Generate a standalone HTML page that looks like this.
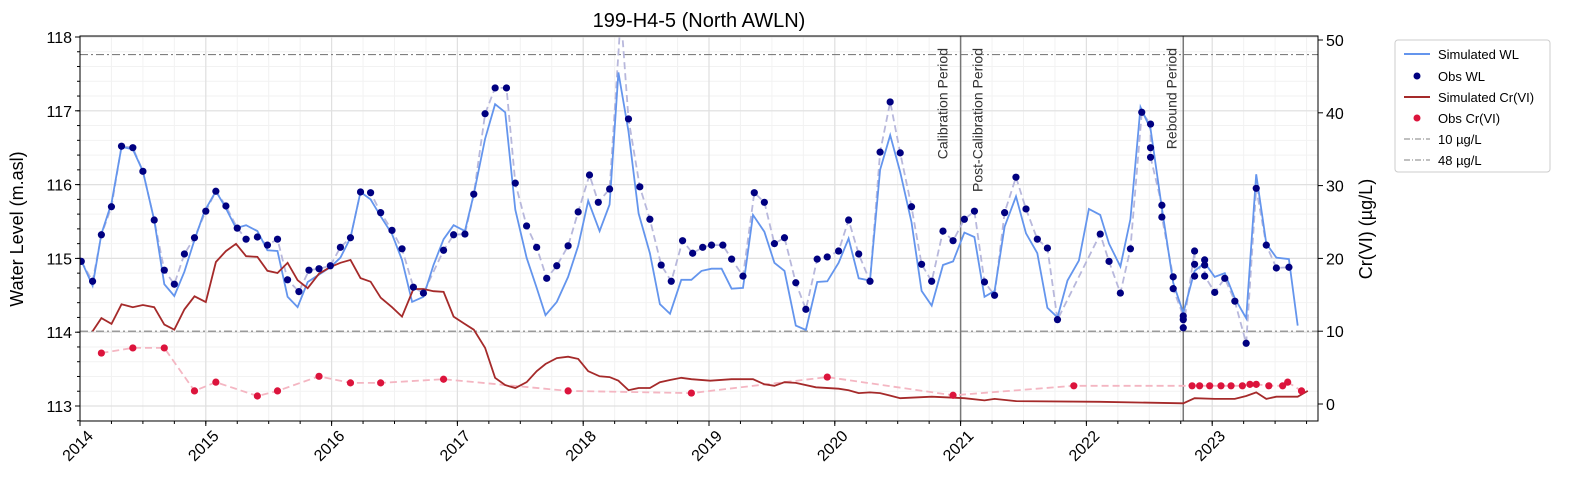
<!DOCTYPE html>
<html><head><meta charset="utf-8">
<style>
html,body{margin:0;padding:0;background:#fff;}
svg{display:block;font-family:"Liberation Sans","DejaVu Sans",sans-serif;}
</style></head>
<body>
<svg id="chart" width="1572" height="489" xmlns="http://www.w3.org/2000/svg">
<defs><clipPath id="clip"><rect x="80" y="36" width="1238" height="385"/></clipPath></defs>
<g id="grid"></g>
<g id="marks" clip-path="url(#clip)"></g>
<rect x="80" y="36" width="1238" height="385" fill="none" stroke="#000" stroke-width="1"/>
<g id="axes"></g>
<text x="699" y="27" font-size="20" text-anchor="middle">199-H4-5 (North AWLN)</text>
<text transform="translate(23,229) rotate(-90)" font-size="18" text-anchor="middle">Water Level (m.asl)</text>
<text transform="translate(1372,229) rotate(-90)" font-size="18" text-anchor="middle">Cr(VI) (µg/L)</text>
<g>
<rect x="1395" y="40" width="155" height="132" fill="#fff" stroke="#ccc" rx="3"/>
<line x1="1404" y1="54" x2="1430" y2="54" stroke="#6495ED" stroke-width="2"/>
<text x="1438" y="59" font-size="13">Simulated WL</text>
<circle cx="1417" cy="76" r="3.5" fill="#000080"/>
<text x="1438" y="81" font-size="13">Obs WL</text>
<line x1="1404" y1="97" x2="1430" y2="97" stroke="#A52A2A" stroke-width="2"/>
<text x="1438" y="102" font-size="13">Simulated Cr(VI)</text>
<circle cx="1417" cy="118" r="3.5" fill="#DC143C"/>
<text x="1438" y="123" font-size="13">Obs Cr(VI)</text>
<line x1="1404" y1="139" x2="1430" y2="139" stroke="#808080" stroke-width="1" stroke-dasharray="6,2,1,2"/>
<text x="1438" y="144" font-size="13">10 µg/L</text>
<line x1="1404" y1="160" x2="1430" y2="160" stroke="#808080" stroke-width="1" stroke-dasharray="6,2,1,2"/>
<text x="1438" y="165" font-size="13">48 µg/L</text>
</g>
</svg>
<script>
const simWlDates=[2014.00,2014.10,2014.17,2014.25,2014.33,2014.42,2014.50,2014.59,2014.67,2014.75,2014.83,2014.91,2014.99,2015.08,2015.15,2015.24,2015.32,2015.41,2015.49,2015.57,2015.65,2015.73,2015.81,2015.90,2015.99,2016.07,2016.15,2016.23,2016.31,2016.39,2016.48,2016.56,2016.64,2016.73,2016.81,2016.89,2016.97,2017.06,2017.13,2017.22,2017.30,2017.38,2017.46,2017.55,2017.63,2017.70,2017.79,2017.88,2017.96,2018.04,2018.13,2018.21,2018.28,2018.36,2018.44,2018.53,2018.61,2018.69,2018.78,2018.86,2018.94,2019.02,2019.10,2019.18,2019.27,2019.35,2019.44,2019.52,2019.60,2019.69,2019.77,2019.86,2019.94,2020.03,2020.11,2020.19,2020.28,2020.36,2020.44,2020.52,2020.61,2020.69,2020.77,2020.86,2020.94,2021.03,2021.11,2021.19,2021.27,2021.35,2021.44,2021.52,2021.61,2021.69,2021.77,2021.85,2021.94,2022.02,2022.11,2022.18,2022.27,2022.35,2022.43,2022.51,2022.60,2022.69,2022.77,2022.86,2022.94,2023.02,2023.10,2023.18,2023.27,2023.35,2023.43,2023.51,2023.61,2023.68];
const simWlValues=[115.01,114.63,115.33,115.75,116.51,116.48,116.18,115.52,114.65,114.49,114.82,115.25,115.64,115.91,115.71,115.41,115.45,115.37,115.11,115.10,114.48,114.34,114.68,114.78,114.88,115.01,115.28,115.90,115.80,115.57,115.33,114.98,114.41,114.48,114.91,115.26,115.45,115.37,115.87,116.62,117.09,116.98,115.66,115.01,114.60,114.23,114.41,114.75,115.17,115.78,115.37,115.73,117.52,116.72,115.61,115.07,114.38,114.25,114.71,114.71,114.83,114.86,114.86,114.59,114.60,115.59,115.36,114.94,114.83,114.09,114.03,114.68,114.69,114.94,115.27,114.73,114.70,116.20,116.67,116.17,115.49,114.56,114.36,114.91,114.96,115.35,115.29,114.48,114.56,115.43,115.84,115.34,115.07,114.33,114.20,114.70,114.97,115.67,115.59,115.20,114.89,115.53,117.05,116.75,115.68,114.67,114.26,114.83,114.94,114.75,114.80,114.46,114.19,116.14,115.20,115.01,114.99,114.09];
const obsWlDates=[2014.01,2014.10,2014.17,2014.25,2014.33,2014.42,2014.50,2014.59,2014.67,2014.75,2014.83,2014.91,2015.00,2015.08,2015.16,2015.25,2015.32,2015.41,2015.49,2015.57,2015.65,2015.74,2015.82,2015.90,2015.99,2016.07,2016.15,2016.23,2016.31,2016.39,2016.48,2016.56,2016.65,2016.73,2016.89,2016.97,2017.06,2017.13,2017.22,2017.30,2017.39,2017.46,2017.55,2017.63,2017.71,2017.79,2017.88,2017.96,2018.05,2018.12,2018.21,2018.30,2018.36,2018.45,2018.53,2018.62,2018.70,2018.79,2018.87,2018.95,2019.02,2019.11,2019.18,2019.27,2019.36,2019.44,2019.52,2019.60,2019.69,2019.77,2019.86,2019.94,2020.03,2020.11,2020.19,2020.28,2020.36,2020.44,2020.52,2020.61,2020.69,2020.77,2020.86,2020.94,2021.03,2021.11,2021.19,2021.27,2021.35,2021.44,2021.52,2021.61,2021.69,2021.77,2022.11,2022.18,2022.27,2022.35,2022.44,2022.51,2022.51,2022.51,2022.60,2022.60,2022.69,2022.69,2022.77,2022.77,2022.77,2022.86,2022.86,2022.86,2022.94,2022.94,2022.94,2023.02,2023.10,2023.18,2023.27,2023.35,2023.43,2023.51,2023.61];
const obsWlValues=[114.96,114.69,115.32,115.70,116.52,116.50,116.18,115.52,114.84,114.65,115.06,115.28,115.64,115.91,115.71,115.41,115.26,115.29,115.18,115.26,114.71,114.55,114.84,114.86,114.90,115.15,115.28,115.90,115.89,115.62,115.38,115.13,114.61,114.53,115.11,115.32,115.33,115.87,116.96,117.31,117.31,116.02,115.44,115.15,114.73,114.90,115.17,115.63,116.13,115.76,115.94,118.30,116.89,115.97,115.53,114.91,114.69,115.24,115.07,115.15,115.18,115.18,114.99,114.76,115.89,115.76,115.20,115.28,114.67,114.31,114.99,115.02,115.10,115.52,115.06,114.69,116.44,117.12,116.43,115.70,114.92,114.69,115.37,115.24,115.53,115.64,114.68,114.50,115.62,116.10,115.67,115.26,115.14,114.17,115.33,114.96,114.53,115.13,116.98,116.82,116.50,116.37,115.72,115.56,114.75,114.59,114.22,114.17,114.06,115.10,114.92,114.76,114.98,114.91,114.76,114.54,114.73,114.42,113.85,115.95,115.18,114.87,114.88];
const simCrDates=[2014.10,2014.17,2014.25,2014.33,2014.42,2014.50,2014.59,2014.67,2014.75,2014.83,2014.91,2015.00,2015.08,2015.16,2015.24,2015.32,2015.41,2015.49,2015.57,2015.65,2015.73,2015.81,2015.90,2015.99,2016.07,2016.15,2016.23,2016.31,2016.39,2016.48,2016.56,2016.65,2016.73,2016.81,2016.89,2016.97,2017.05,2017.13,2017.22,2017.30,2017.38,2017.46,2017.55,2017.63,2017.70,2017.79,2017.88,2017.96,2018.04,2018.13,2018.21,2018.28,2018.36,2018.44,2018.53,2018.61,2018.69,2018.78,2018.86,2019.01,2019.18,2019.35,2019.44,2019.52,2019.60,2019.69,2019.85,2020.03,2020.11,2020.19,2020.28,2020.36,2020.52,2020.77,2021.03,2021.19,2021.27,2021.44,2022.11,2022.77,2022.86,2023.02,2023.18,2023.27,2023.35,2023.43,2023.51,2023.68,2023.76];
const simCrValues=[10.0,11.8,11.0,13.7,13.3,13.6,13.3,10.9,10.2,13.0,14.8,14.0,19.5,21.0,22.0,20.3,20.2,18.3,18.0,19.4,17.0,15.9,17.9,18.8,19.4,19.8,17.3,16.8,14.6,13.3,12.0,15.8,15.8,15.5,15.4,12.0,11.1,10.2,7.7,3.6,2.6,2.2,3.0,4.5,5.5,6.3,6.5,6.2,4.5,3.8,3.7,3.2,1.9,2.2,2.2,3.0,3.3,3.6,3.4,3.2,3.4,3.4,2.7,2.5,3.0,2.9,2.3,2.1,1.9,1.5,1.6,1.5,0.8,1.0,0.8,0.5,0.7,0.4,0.3,0.1,0.8,0.7,0.7,1.1,1.6,0.7,1.0,1.0,1.8];
const obsCrDates=[2014.17,2014.42,2014.67,2014.91,2015.08,2015.41,2015.57,2015.90,2016.15,2016.39,2016.89,2017.88,2018.86,2019.94,2020.94,2021.90,2022.84,2022.90,2022.98,2023.07,2023.15,2023.24,2023.30,2023.35,2023.45,2023.56,2023.60,2023.71];
const obsCrValues=[7.0,7.7,7.7,1.8,3.0,1.1,1.8,3.8,2.9,2.9,3.4,1.8,1.5,3.7,1.2,2.5,2.5,2.5,2.5,2.5,2.5,2.5,2.7,2.7,2.5,2.5,3.0,1.8];
const yearTicks=[2014,2015,2016,2017,2018,2019,2020,2021,2022,2023];
const wlTicks=[113,114,115,116,117,118];
const crTicks=[0,10,20,30,40,50];
const thresholds=[10,48];
const periodLines=[2021.0,2022.77];

const NS="http://www.w3.org/2000/svg";
const X0=80,X1=1318,Y0=36,Y1=421;
function xs(t){return 80+(t-2014)*125.8;}
function yl(v){return 37+(118-v)*73.8;}
function yr(v){return 404-v*7.28;}
function mk(tag,attrs,parent){const e=document.createElementNS(NS,tag);for(const k in attrs)e.setAttribute(k,attrs[k]);parent.appendChild(e);return e;}
const grid=document.getElementById('grid'),marks=document.getElementById('marks'),axes=document.getElementById('axes');

for(let t=2014;t<2023.9;t+=0.25){const x=xs(t);if(x>X1)break;const l=mk('line',{x1:x,x2:x,y1:Y0,y2:Y1,stroke:'#f2f2f2','stroke-width':1},grid);

}
for(let v=112.8;v<=118;v+=0.2){const y=yl(v);const l=mk('line',{x1:X0,x2:X1,y1:y,y2:y,stroke:'#f2f2f2','stroke-width':1},grid);

}
yearTicks.forEach(t=>{const x=xs(t);const l=mk('line',{x1:x,x2:x,y1:Y0,y2:Y1,stroke:'#e0e0e0','stroke-width':1.2},grid);


const tk=mk('line',{x1:x,x2:x,y1:Y1,y2:Y1+5,stroke:'#000'},axes);


const tx=mk('text',{transform:`translate(${x+14},${Y1+16}) rotate(-45)`,'font-size':16,'text-anchor':'end'},axes);tx.textContent=t;

});
for(let t=2014;t<2023.9;t+=0.25){const x=xs(t);if(x>X1)break;const tk=mk('line',{x1:x,x2:x,y1:Y1,y2:Y1+3,stroke:'#000'},axes);

}
wlTicks.forEach(v=>{const y=yl(v);const l=mk('line',{x1:X0,x2:X1,y1:y,y2:y,stroke:'#e0e0e0','stroke-width':1.2},grid);


const tk=mk('line',{x1:X0-5,x2:X0,y1:y,y2:y,stroke:'#000'},axes);


const tx=mk('text',{x:X0-8,y:y+6,'font-size':16,'text-anchor':'end'},axes);tx.textContent=v;

});
for(let v=112.8;v<=118;v+=0.2){const y=yl(v);const tk=mk('line',{x1:X0-3,x2:X0,y1:y,y2:y,stroke:'#000'},axes);

}
crTicks.forEach(v=>{const y=yr(v);const tk=mk('line',{x1:X1,x2:X1+5,y1:y,y2:y,stroke:'#000'},axes);


const tx=mk('text',{x:X1+8,y:y+6,'font-size':16},axes);tx.textContent=v;

});

function pathD(ds,vs,yf){return ds.map((d,i)=>(i?'L':'M')+xs(d).toFixed(1)+','+yf(vs[i]).toFixed(1)).join(' ');}
thresholds.forEach(v=>{const y=yr(v);const l=mk('line',{x1:X0,x2:X1,y1:y,y2:y,stroke:'#808080','stroke-width':1.2,'stroke-dasharray':'8,3,2,3'},marks);

});
periodLines.forEach(t=>{const x=xs(t);const l=mk('line',{x1:x,x2:x,y1:Y0,y2:Y1,stroke:'#777','stroke-width':1.5},marks);

});
[["Calibration Period",xs(periodLines[0])-13],["Post-Calibration Period",xs(periodLines[0])+22],["Rebound Period",xs(periodLines[1])-7]].forEach(a=>{
 const t=mk('text',{'font-size':14,fill:'#333','text-anchor':'end',transform:`translate(${a[1]},48) rotate(-90)`},axes);
 t.textContent=a[0];
 
 });

const p1=mk('path',{d:pathD(obsCrDates,obsCrValues,yr),fill:'none',stroke:'#f4b6c2','stroke-width':1.8,'stroke-dasharray':'7,4'},marks);


const p2=mk('path',{d:pathD(obsWlDates,obsWlValues,yl),fill:'none',stroke:'#b8b8dc','stroke-width':1.8,'stroke-dasharray':'7,4'},marks);


const p3=mk('path',{d:pathD(simWlDates,simWlValues,yl),fill:'none',stroke:'#6495ED','stroke-width':1.8},marks);


const p4=mk('path',{d:pathD(simCrDates,simCrValues,yr),fill:'none',stroke:'#A52A2A','stroke-width':1.8},marks);


obsWlDates.forEach((d,i)=>{const c=mk('circle',{cx:xs(d),cy:yl(obsWlValues[i]),r:3.6,fill:'#000080'},marks);

});
obsCrDates.forEach((d,i)=>{const c=mk('circle',{cx:xs(d),cy:yr(obsCrValues[i]),r:3.6,fill:'#DC143C'},marks);

});
</script>
</body></html>
